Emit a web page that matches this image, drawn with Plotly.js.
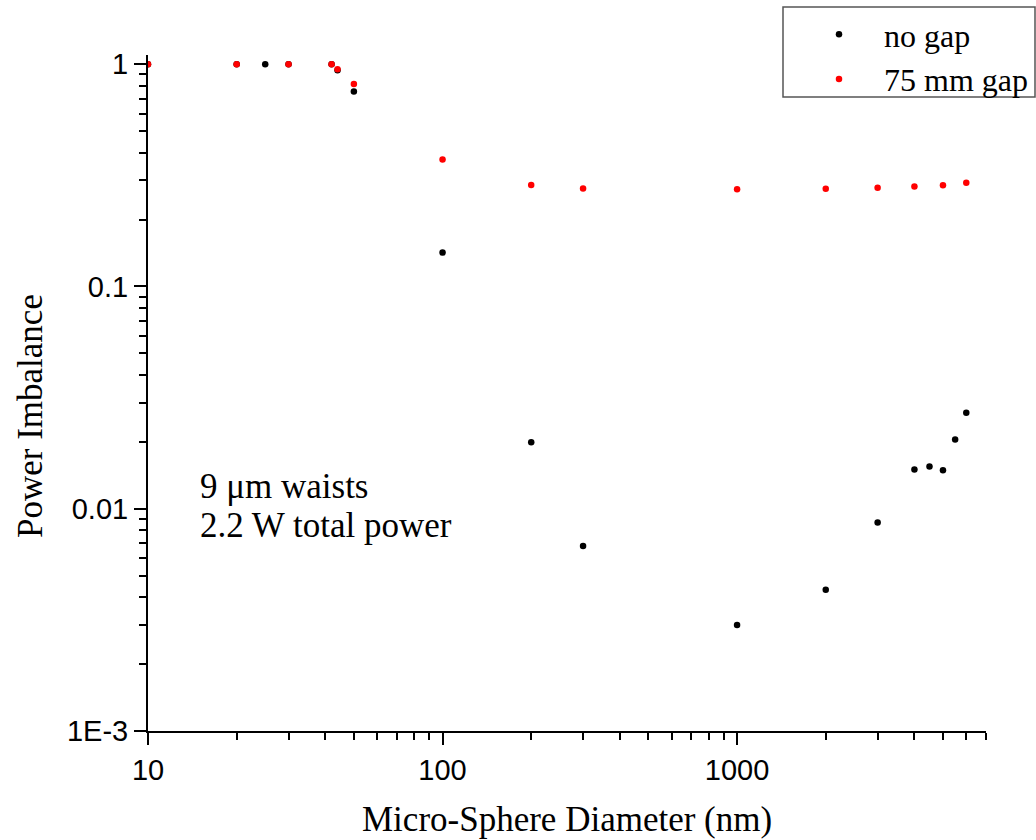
<!DOCTYPE html>
<html>
<head>
<meta charset="utf-8">
<script src="https://cdn.plot.ly/plotly-3.0.1.min.js"></script>
<style>html,body{margin:0;padding:0;background:#fff;}</style>
</head>
<body>
<div id="chart" style="width:1036px;height:840px;"></div>
<script>
// Data
const noGapDiameter = [10, 20, 25, 30, 42, 44, 50, 100, 200, 300, 1000, 2000, 3000, 4000, 4500, 5000, 5500, 6000];
const noGapImbalance = [1, 1, 1, 1, 1, 0.94, 0.753, 0.142, 0.0199, 0.0068, 0.0030, 0.00432, 0.00868, 0.0150, 0.0155, 0.0149, 0.0205, 0.0270];

const gapDiameter = [10, 20, 30, 42, 44, 50, 100, 200, 300, 1000, 2000, 3000, 4000, 5000, 6000];
const gapImbalance = [1, 1, 1, 1, 0.95, 0.815, 0.373, 0.286, 0.276, 0.274, 0.275, 0.278, 0.282, 0.285, 0.293];

const xTickVals = [10, 100, 1000];
const xTickText = ["10", "100", "1000"];
const yTickVals = [0.001, 0.01, 0.1, 1];
const yTickText = ["1E-3", "0.01", "0.1", "1"];

const seriesNames = ["no gap", "75 mm gap"];
const annotationLines = ["9 \u03bcm waists", "2.2 W total power"];

function minorVals(lo, hi) {
  const out = [];
  for (let d = lo; d < hi; d *= 10) {
    for (let k = 2; k <= 9; k++) out.push(k * d);
  }
  return out;
}

const serif = "Liberation Serif, Times New Roman, serif";
const sans = "Liberation Sans, Arial, sans-serif";

const traces = [
  {
    x: noGapDiameter, y: noGapImbalance, name: seriesNames[0],
    type: "scatter", mode: "markers",
    marker: {color: "#000000", size: 6.5}
  },
  {
    x: gapDiameter, y: gapImbalance, name: seriesNames[1],
    type: "scatter", mode: "markers",
    marker: {color: "#ff0000", size: 6.5}
  }
];

const axisCommon = {
  type: "log",
  showgrid: false,
  zeroline: false,
  showline: true,
  linecolor: "#000",
  linewidth: 2,
  ticks: "outside",
  ticklen: 12,
  tickwidth: 2,
  tickcolor: "#000",
  tickmode: "array",
  tickfont: {family: sans, size: 29, color: "#000"}
};

const W = 838, H = 676, L = 148, T = 55;
function px(xp) { return (xp - L) / W; }
function py(yp) { return (T + H - yp) / H; }

const layout = {
  width: 1036,
  height: 840,
  paper_bgcolor: "#fff",
  plot_bgcolor: "#fff",
  margin: {l: 148, r: 50, t: 55, b: 109, autoexpand: false},
  showlegend: true,
  legend: {
    x: px(794), y: py(7), xanchor: "left", yanchor: "top",
    borderwidth: 0, bgcolor: "rgba(0,0,0,0)",
    font: {family: serif, size: 32, color: "#000"},
    itemwidth: 80,
    tracegroupgap: 0
  },
  shapes: [
    {
      type: "rect", xref: "paper", yref: "paper",
      x0: px(783), x1: px(1035), y0: py(97), y1: py(7),
      line: {color: "#555", width: 1.5}, fillcolor: "rgba(0,0,0,0)"
    }
  ],
  xaxis: Object.assign({}, axisCommon, {
    range: [1, Math.log10(7000)],
    tickvals: xTickVals, ticktext: xTickText,
    minor: {tickmode: "array", tickvals: minorVals(10, 7001).filter(v => v <= 7000), ticks: "outside", ticklen: 7, tickwidth: 2, tickcolor: "#000", showgrid: false},
    title: {text: ""}
  }),
  yaxis: Object.assign({}, axisCommon, {
    range: [-3, Math.log10(1.1)],
    tickvals: yTickVals, ticktext: yTickText,
    minor: {tickmode: "array", tickvals: minorVals(0.001, 1.01), ticks: "outside", ticklen: 7, tickwidth: 2, tickcolor: "#000", showgrid: false},
    title: {text: ""}
  }),
  annotations: [
    {
      text: "Micro-Sphere Diameter (nm)", xref: "paper", yref: "paper",
      x: px(567), y: py(819), xanchor: "center", yanchor: "middle",
      showarrow: false,
      font: {family: serif, size: 35, color: "#000"}
    },
    {
      text: "Power Imbalance", xref: "paper", yref: "paper",
      x: px(30), y: py(416), xanchor: "center", yanchor: "middle",
      textangle: -90, showarrow: false,
      font: {family: serif, size: 35, color: "#000"}
    },
    {
      text: annotationLines[0], xref: "paper", yref: "paper",
      x: px(198), y: py(487), xanchor: "left", yanchor: "middle",
      align: "left", showarrow: false,
      font: {family: serif, size: 35, color: "#000"}
    },
    {
      text: annotationLines[1], xref: "paper", yref: "paper",
      x: px(198), y: py(525), xanchor: "left", yanchor: "middle",
      align: "left", showarrow: false,
      font: {family: serif, size: 35, color: "#000"}
    }
  ]
};

Plotly.newPlot("chart", traces, layout, {displayModeBar: false, staticPlot: true});
</script>
</body>
</html>
